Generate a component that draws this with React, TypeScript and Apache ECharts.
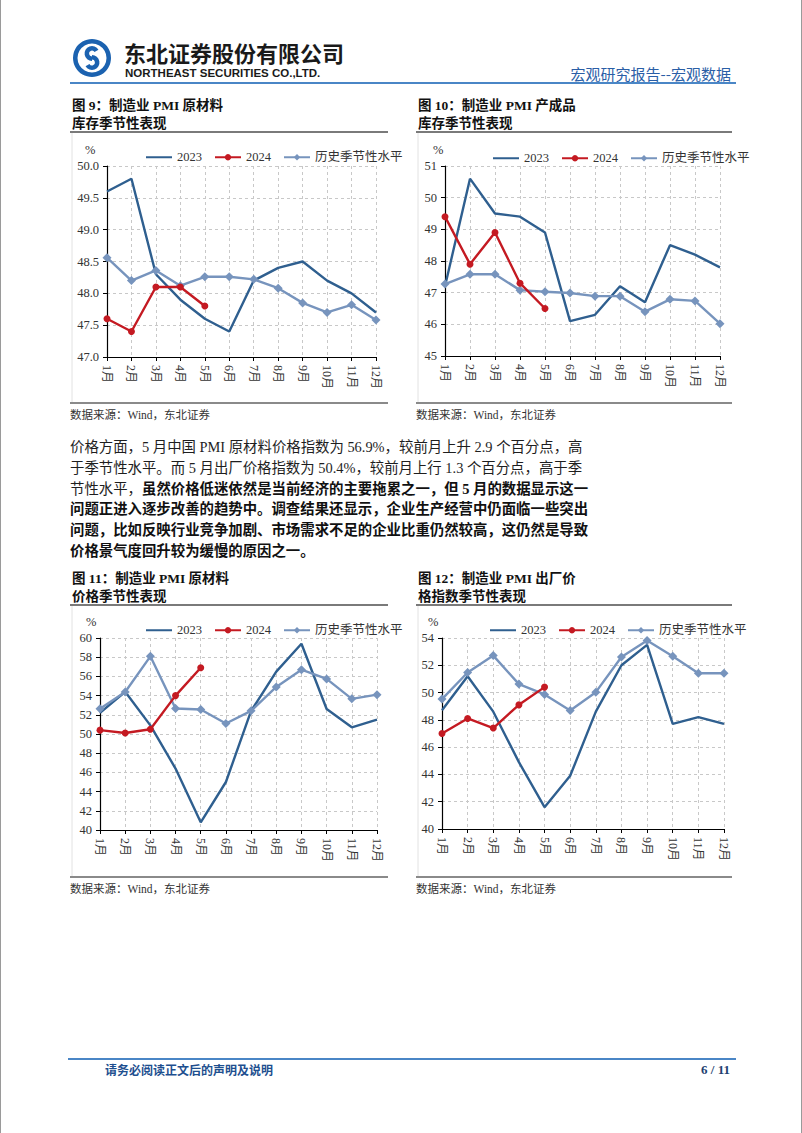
import React, { useEffect, useRef } from "react";
import * as echarts from "echarts";

const months = ["1月", "2月", "3月", "4月", "5月", "6月", "7月", "8月", "9月", "10月", "11月", "12月"];
const seriesNames = ["2023", "2024", "历史季节性水平"];

// 图9 原材料库存
const rawInv2023 = [49.6, 49.8, 48.3, 47.9, 47.6, 47.4, 48.2, 48.4, 48.5, 48.2, 48.0, 47.7];
const rawInv2024 = [47.6, 47.4, 48.1, 48.1, 47.8];
const rawInvHist = [48.56, 48.2, 48.36, 48.12, 48.26, 48.26, 48.22, 48.08, 47.85, 47.7, 47.82, 47.58];
// 图10 产成品库存
const finInv2023 = [47.2, 50.6, 49.5, 49.4, 48.9, 46.1, 46.3, 47.2, 46.7, 48.5, 48.2, 47.8];
const finInv2024 = [49.4, 47.9, 48.9, 47.3, 46.5];
const finInvHist = [47.27, 47.58, 47.58, 47.08, 47.03, 46.99, 46.89, 46.89, 46.4, 46.79, 46.74, 46.02];
// 图11 原材料价格
const rawPrice2023 = [52.2, 54.4, 50.9, 46.4, 40.8, 45.0, 52.4, 56.5, 59.4, 52.6, 50.7, 51.5];
const rawPrice2024 = [50.4, 50.1, 50.5, 54.0, 56.9];
const rawPriceHist = [52.62, 54.38, 58.09, 52.65, 52.55, 51.09, 52.41, 54.9, 56.7, 55.74, 53.66, 54.1];
// 图12 出厂价格
const outPrice2023 = [48.7, 51.2, 48.6, 44.9, 41.6, 43.9, 48.6, 52.0, 53.5, 47.7, 48.2, 47.7];
const outPrice2024 = [47.0, 48.1, 47.4, 49.1, 50.4];
const outPriceHist = [49.52, 51.47, 52.71, 50.62, 49.86, 48.69, 50.03, 52.61, 53.81, 52.66, 51.42, 51.42];

// y-axis ranges
const axisRanges = [
  { min: 47, max: 50, interval: 0.5, decimals: 1 },
  { min: 45, max: 51, interval: 1, decimals: 0 },
  { min: 40, max: 60, interval: 2, decimals: 0 },
  { min: 40, max: 54, interval: 2, decimals: 0 },
];

const titles = [
  ["图 9：制造业 PMI 原材料", "库存季节性表现"],
  ["图 10：制造业 PMI 产成品", "库存季节性表现"],
  ["图 11：制造业 PMI 原材料", "价格季节性表现"],
  ["图 12：制造业 PMI 出厂价", "格指数季节性表现"],
];
const sourceText = "数据来源：Wind，东北证券";

const paraNormal1 = "价格方面，5 月中国 PMI 原材料价格指数为 56.9%，较前月上升 2.9 个百分点，高";
const paraNormal2 = "于季节性水平。而 5 月出厂价格指数为 50.4%，较前月上行 1.3 个百分点，高于季";
const paraNormal3 = "节性水平，";
const paraBold3 = "虽然价格低迷依然是当前经济的主要拖累之一，但 5 月的数据显示这一";
const paraBold4 = "问题正进入逐步改善的趋势中。调查结果还显示，企业生产经营中仍面临一些突出";
const paraBold5 = "问题，比如反映行业竞争加剧、市场需求不足的企业比重仍然较高，这仍然是导致";
const paraBold6 = "价格景气度回升较为缓慢的原因之一。";

const panelData = [
  [rawInv2023, rawInv2024, rawInvHist],
  [finInv2023, finInv2024, finInvHist],
  [rawPrice2023, rawPrice2024, rawPriceHist],
  [outPrice2023, outPrice2024, outPriceHist],
];

// layout (positions only)
const layout = [
  { grid: { left: 107, top: 166, width: 269, height: 191 }, box: [70, 388], titleY: 105, ulY: 132, botY: 403, srcY: 415, legend: { left: 140, top: 146 }, pct: [85, 150] },
  { grid: { left: 445, top: 166, width: 275, height: 190 }, box: [416, 732], titleY: 105, ulY: 132, botY: 403, srcY: 415, legend: { left: 487, top: 147 }, pct: [433, 150] },
  { grid: { left: 100, top: 638, width: 277, height: 192 }, box: [70, 388], titleY: 578, ulY: 605, botY: 877, srcY: 889, legend: { left: 140, top: 619 }, pct: [86, 622] },
  { grid: { left: 442, top: 638, width: 282, height: 191 }, box: [416, 732], titleY: 578, ulY: 605, botY: 877, srcY: 889, legend: { left: 484, top: 619 }, pct: [428, 622] },
];

const C2023 = "#2f5f8f";
const C2024 = "#c41a22";
const CHIST = "#7794bd";
const SERIF = "'Liberation Serif', 'Times New Roman', 'Noto Sans CJK SC', serif";
const CJK = "'Liberation Serif', 'Noto Sans CJK SC', serif";

function txt(x: number, y: number, text: string, o: any = {}) {
  return {
    type: "text",
    x,
    y,
    silent: true,
    style: {
      text,
      fontSize: o.size || 12,
      fontFamily: o.family || CJK,
      fontWeight: o.bold ? "bold" : "normal",
      fill: o.color || "#222",
      textAlign: o.align || "left",
      textVerticalAlign: "middle",
    },
  };
}
function ln(x1: number, y1: number, x2: number, y2: number, color: string, w: number) {
  return { type: "line", silent: true, shape: { x1, y1, x2, y2 }, style: { stroke: color, lineWidth: w } };
}

export default function App() {
  const ref = useRef<HTMLDivElement>(null);
  useEffect(() => {
    if (!ref.current) return;
    const chart = echarts.init(ref.current, undefined, { renderer: "svg" });

    const grids: any[] = [];
    const xAxes: any[] = [];
    const yAxes: any[] = [];
    const series: any[] = [];
    const legends: any[] = [];
    const graphics: any[] = [];

    layout.forEach((L, i) => {
      grids.push({ ...L.grid, containLabel: false });
      xAxes.push({
        type: "category",
        gridIndex: i,
        data: months,
        boundaryGap: false,
        axisLine: { lineStyle: { color: "#000", width: 1.2 } },
        axisTick: { show: true, length: 4, lineStyle: { color: "#000" } },
        axisLabel: { rotate: -90, margin: 8, fontSize: 12, fontFamily: CJK, color: "#333", interval: 0 },
        splitLine: { show: true, lineStyle: { type: [3, 3], color: "#c8c8c8", width: 1 } },
      });
      const r = axisRanges[i];
      yAxes.push({
        type: "value",
        gridIndex: i,
        min: r.min,
        max: r.max,
        interval: r.interval,
        axisLine: { show: true, lineStyle: { color: "#000", width: 1.2 } },
        axisTick: { show: true, length: 4, lineStyle: { color: "#000" } },
        axisLabel: {
          margin: 8,
          fontSize: 12.5,
          fontFamily: SERIF,
          color: "#333",
          formatter: (v: number) => v.toFixed(r.decimals),
        },
        splitLine: { show: true, lineStyle: { type: [3, 3], color: "#c8c8c8", width: 1 } },
      });
      const [d23, d24, dh] = panelData[i];
      series.push({
        name: seriesNames[0],
        type: "line",
        xAxisIndex: i,
        yAxisIndex: i,
        data: d23,
        symbol: "none",
        lineStyle: { color: C2023, width: 2.4 },
        itemStyle: { color: C2023 },
        z: 2,
      });
      series.push({
        name: seriesNames[2],
        type: "line",
        xAxisIndex: i,
        yAxisIndex: i,
        data: dh,
        symbol: "diamond",
        symbolSize: 9,
        showSymbol: true,
        lineStyle: { color: CHIST, width: 2.4 },
        itemStyle: { color: CHIST },
        z: 3,
      });
      series.push({
        name: seriesNames[1],
        type: "line",
        xAxisIndex: i,
        yAxisIndex: i,
        data: d24,
        symbol: "circle",
        symbolSize: 7,
        showSymbol: true,
        lineStyle: { color: C2024, width: 2.4 },
        itemStyle: { color: C2024 },
        z: 4,
      });
      legends.push({
        left: L.legend.left,
        top: L.legend.top,
        orient: "horizontal",
        itemWidth: 26,
        itemHeight: 8,
        itemGap: 12,
        selectedMode: false,
        data: [
          { name: seriesNames[0], itemStyle: { opacity: 0 } },
          { name: seriesNames[1] },
          { name: seriesNames[2] },
        ],
        textStyle: { fontSize: 12.5, fontFamily: CJK, color: "#333" },
      });
      // title, lines, source
      graphics.push(txt(L.box[0] + 2, L.titleY, titles[i][0], { size: 13.5, bold: true, color: "#111" }));
      graphics.push(txt(L.box[0] + 2, L.titleY + 18, titles[i][1], { size: 13.5, bold: true, color: "#111" }));
      graphics.push(ln(L.box[0], L.ulY, L.box[1], L.ulY, "#7a7a7a", 1.8));
      graphics.push(ln(L.box[0], L.botY, L.box[1], L.botY, "#8a8a8a", 2));
      graphics.push(ln(L.box[0] + 2, L.ulY + 1, L.box[0] + 2, L.botY - 1, "#e2e2e2", 1));
      graphics.push(txt(L.box[0], L.srcY, sourceText, { size: 11.5, color: "#333" }));
      graphics.push(txt(L.pct[0], L.pct[1], "%", { size: 12.5, color: "#333", family: SERIF }));
    });

    // header
    graphics.push({ type: "ring", silent: true, shape: { cx: 92, cy: 58, r: 19, r0: 14.5 }, style: { fill: "#1b62b0" } });
    graphics.push({
      type: "arc",
      silent: true,
      shape: { cx: 92, cy: 53.5, r: 5.2, startAngle: -Math.PI / 6, endAngle: -1.5 * Math.PI, clockwise: false },
      style: { stroke: "#1b62b0", lineWidth: 4.5, fill: "none" },
    });
    graphics.push({
      type: "arc",
      silent: true,
      shape: { cx: 92, cy: 62.5, r: 5.2, startAngle: -Math.PI / 2, endAngle: (5 * Math.PI) / 6, clockwise: true },
      style: { stroke: "#1b62b0", lineWidth: 4.5, fill: "none" },
    });
    graphics.push(txt(124, 52, "东北证券股份有限公司", { size: 22, bold: true, color: "#1a1a1a", family: "'Noto Sans CJK SC', sans-serif" }));
    graphics.push(txt(125, 72.5, "NORTHEAST SECURITIES CO.,LTD.", { size: 11.5, bold: true, color: "#1a1a1a", family: "'Liberation Sans', Arial, sans-serif" }));
    graphics.push(txt(731, 73, "宏观研究报告--宏观数据", { size: 15, color: "#2a5ea6", align: "right", family: "'Noto Sans CJK SC', sans-serif" }));
    graphics.push(ln(70, 83, 736, 83, "#4a86c6", 1.8));

    // paragraph
    const py = [447, 468, 488.5, 509, 530, 550.5];
    const pOpt = { size: 14.4, color: "#1e1e1e" };
    const pBold = { size: 14.4, color: "#111", bold: true };
    graphics.push(txt(70, py[0], paraNormal1, pOpt));
    graphics.push(txt(70, py[1], paraNormal2, pOpt));
    graphics.push(txt(70, py[2], paraNormal3, pOpt));
    graphics.push(txt(142, py[2], paraBold3, pBold));
    graphics.push(txt(70, py[3], paraBold4, pBold));
    graphics.push(txt(70, py[4], paraBold5, pBold));
    graphics.push(txt(70, py[5], paraBold6, pBold));

    // footer
    graphics.push(ln(68, 1059, 736, 1059, "#4a86c6", 1.8));
    graphics.push(txt(105, 1069, "请务必阅读正文后的声明及说明", { size: 12, bold: true, color: "#1e4f8f", family: "'Noto Sans CJK SC', sans-serif" }));
    graphics.push(txt(730, 1069, "6 / 11", { size: 13, bold: true, color: "#1e3f70", align: "right", family: SERIF }));

    // page edges
    graphics.push(ln(0.5, 0, 0.5, 1133, "#9a9a9a", 1));
    graphics.push(ln(801.5, 0, 801.5, 1133, "#9a9a9a", 1));

    chart.setOption({
      animation: false,
      backgroundColor: "#ffffff",
      grid: grids,
      xAxis: xAxes,
      yAxis: yAxes,
      legend: legends,
      series,
      graphic: { elements: graphics },
    });
    return () => chart.dispose();
  }, []);

  return (
    <div
      ref={ref}
      style={{ position: "absolute", left: 0, top: 0, width: 802, height: 1133, background: "#fff" }}
    />
  );
}
